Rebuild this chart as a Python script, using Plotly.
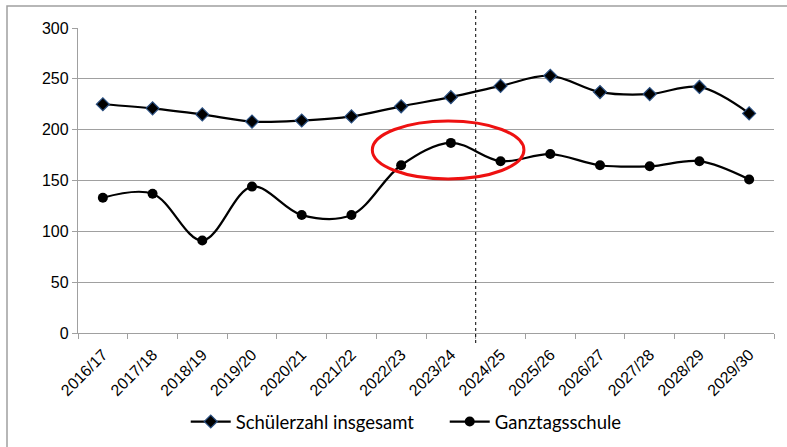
import plotly.graph_objects as go

years = ["2016/17", "2017/18", "2018/19", "2019/20", "2020/21", "2021/22", "2022/23",
         "2023/24", "2024/25", "2025/26", "2026/27", "2027/28", "2028/29", "2029/30"]
schueler = [225, 221, 215, 208, 209, 213, 223, 232, 243, 253, 237, 235, 242, 216]
ganztag = [133, 137, 91, 144, 116, 116, 165, 187, 169, 176, 165, 164, 169, 151]

fig = go.Figure()
fig.add_trace(go.Scatter(
    x=years, y=schueler, name="Schülerzahl insgesamt", mode="lines+markers",
    line=dict(color="black", width=2.25, shape="spline", smoothing=1),
    marker=dict(symbol="diamond", size=10, color="black", line=dict(color="#2A4F80", width=1.2)),
))
fig.add_trace(go.Scatter(
    x=years, y=ganztag, name="Ganztagsschule", mode="lines+markers",
    line=dict(color="black", width=2.25, shape="spline", smoothing=1),
    marker=dict(symbol="circle", size=10, color="black"),
))

# outer border (top and left visible)
fig.add_shape(type="rect", xref="paper", yref="paper",
              x0=-71/696, x1=720/696, y0=-120/305, y1=(333-6)/305,
              line=dict(color="#A0A0A0", width=1.5), layer="below")
# dotted separator
fig.add_shape(type="line", xref="x", yref="paper", x0=7.5, x1=7.5,
              y0=-10/305, y1=(333-8)/305, line=dict(color="black", width=1, dash="dot"))
# red ellipse
fig.add_shape(type="circle", xref="x", yref="y", x0=5.42, x1=8.47, y0=151.5, y1=208.5,
              line=dict(color="#EE1111", width=3))

fig.update_layout(
    width=787, height=447,
    margin=dict(l=78, r=13, t=28, b=114, autoexpand=False),
    paper_bgcolor="white", plot_bgcolor="white",
    showlegend=True,
    legend=dict(orientation="h", xref="container", yref="container",
                x=0.236, xanchor="left", y=1 - 422 / 447, yanchor="middle",
                font=dict(family="Lato", size=18.5, color="black"), itemwidth=40,
                entrywidth=204, tracegroupgap=0),
    xaxis=dict(type="category", range=[-0.5, 13.5], tickangle=-45, automargin=False,
               tickfont=dict(family="Arial, Liberation Sans, sans-serif", size=16, color="black"),
               ticklabelstandoff=5,
               ticks="outside", tickson="boundaries", ticklen=5, tickcolor="#A0A0A0",
               showline=True, linecolor="#A0A0A0", linewidth=1.3, showgrid=False),
    yaxis=dict(range=[0, 300], dtick=50, automargin=False,
               tickfont=dict(family="Arial, Liberation Sans, sans-serif", size=16, color="black"),
               ticks="outside", ticklen=5, tickcolor="#A0A0A0",
               showline=True, linecolor="#A0A0A0", linewidth=1.3,
               showgrid=True, gridcolor="#A0A0A0", gridwidth=1.3, zeroline=False),
)

fig.write_html("out.html", config={"displayModeBar": False},
               post_script="document.body.style.margin='0';document.body.style.overflow='hidden';")
